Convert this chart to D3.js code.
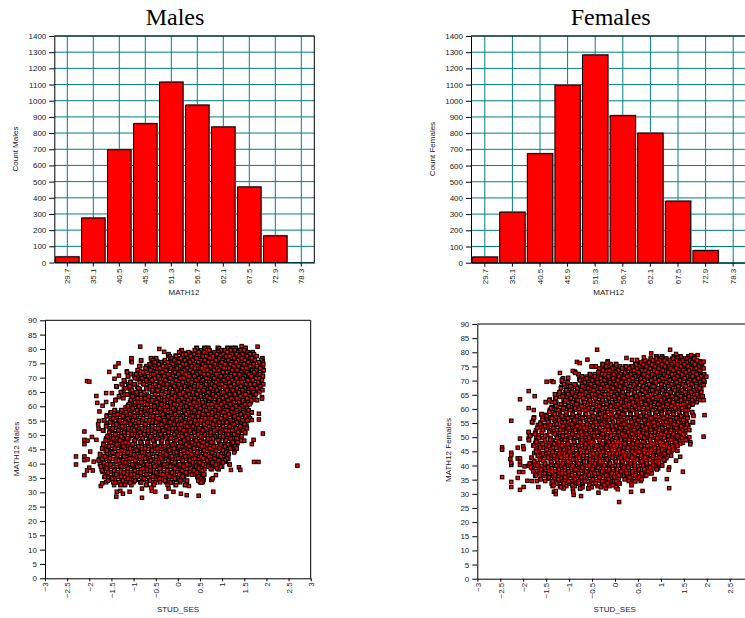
<!DOCTYPE html>
<html>
<head>
<meta charset="utf-8">
<script src="https://d3js.org/d3.v7.min.js"></script>
<style>
body { margin: 0; background: #fff; overflow: hidden; }
text { font-family: "Liberation Sans", Arial, sans-serif; font-size: 8px; fill: #222; }
.title { font-family: "Liberation Serif", "Times New Roman", serif; font-size: 24px; fill: #000; }
</style>
</head>
<body>
<script>
let binLabels = ["29.7", "35.1", "40.5", "45.9", "51.3", "56.7", "62.1", "67.5", "72.9", "78.3"];
let malesCount = [35, 275, 697, 858, 1115, 973, 838, 467, 165, 0];
let femalesCount = [35, 312, 673, 1097, 1283, 908, 800, 380, 75, 0];
let countTicks = d3.range(0, 1401, 100);
let mathTicks = d3.range(0, 91, 5);
let sesTicks = [-3, -2.5, -2, -1.5, -1, -0.5, 0, 0.5, 1, 1.5, 2, 2.5, 3];
let sesTicksFemales = [-3, -2.5, -2, -1.5, -1, -0.5, 0, 0.5, 1, 1.5, 2, 2.5];

// Streupunkte: von Hand aus dem Bild geschaetzt, [MATH12, [STUD_SES, ...]].
// Die Wolke ist zu dicht zum Ablesen, also nur eine Auswahl der Originalpunkte.
let malesRowsA = [
[80.4,[.42,.6,.68,.9,1.12,1.22,1.3,1.45,1.52]],
[79.5,[.08,.4,.5,.63,.72,.92,1.08,1.18,1.28,1.38,1.5]],
[78.6,[.05,.17,.27,.44,.57,.66,.78,.88,1,1.12,1.24,1.33,1.43,1.55,1.68]],
[77.7,[-.22,-.05,.1,.19,.35,.47,.6,.74,.86,.95,1.06,1.2,1.31,1.47,1.6,1.72]],
[76.7,[-1.05,-.6,-.5,-.17,0,.12,.24,.38,.5,.66,.77,.9,1.04,1.15,1.27,1.4,1.53,1.64,1.9]],
[75.8,[-1.05,-.83,-.58,-.47,-.3,-.12,.03,.16,.29,.45,.58,.7,.84,.97,1.1,1.22,1.36,1.5,1.6,1.72,1.92]],
[74.9,[-.6,-.45,-.36,-.22,-.08,.08,.21,.34,.5,.63,.75,.88,1.02,1.16,1.28,1.42,1.56,1.7,1.85]],
[74,[-.85,-.7,-.52,-.4,-.28,-.12,0,.14,.27,.4,.55,.68,.82,.94,1.08,1.22,1.35,1.48,1.62,1.76,1.92]],
[73.1,[-.72,-.6,-.46,-.32,-.18,-.04,.1,.24,.36,.5,.62,.76,.9,1.03,1.17,1.3,1.44,1.58,1.7,1.84]],
[72.2,[-1.15,-.85,-.66,-.54,-.4,-.25,-.1,.04,.17,.31,.45,.58,.72,.85,.98,1.12,1.26,1.38,1.52,1.66,1.78,1.92]],
[71.3,[-1.05,-.92,-.76,-.6,-.47,-.33,-.18,-.03,.11,.25,.38,.52,.66,.8,.93,1.07,1.2,1.34,1.47,1.6,1.74,1.86]],
[70.4,[-1.12,-.98,-.84,-.7,-.55,-.4,-.26,-.11,.04,.18,.32,.46,.6,.73,.87,1,1.14,1.28,1.42,1.55,1.68,1.8,1.92]],
[69.5,[-.92,-.77,-.62,-.48,-.33,-.18,-.04,.11,.25,.39,.53,.67,.8,.94,1.08,1.21,1.35,1.49,1.62,1.75,1.88]],
[68.6,[-1.2,-1.06,-.84,-.7,-.56,-.41,-.26,-.12,.03,.17,.31,.45,.59,.74,.87,1.01,1.15,1.28,1.42,1.56,1.69,1.82]],
[67.7,[-1.25,-1.12,-.98,-.78,-.63,-.49,-.34,-.19,-.05,.1,.24,.38,.52,.66,.8,.94,1.08,1.22,1.35,1.49,1.63,1.76,1.9]],
[66.8,[-1.38,-1.05,-.92,-.71,-.56,-.42,-.27,-.13,.02,.16,.3,.45,.59,.72,.86,1,1.14,1.28,1.42,1.55,1.68,1.8]],
[65.9,[-1.22,-1.08,-.86,-.64,-.5,-.35,-.2,-.06,.09,.23,.37,.51,.65,.79,.93,1.07,1.2,1.34,1.48,1.62,1.75,1.88]],
[65,[-1.26,-1.02,-.92,-.78,-.58,-.43,-.28,-.14,.01,.15,.29,.44,.58,.72,.86,1,1.14,1.27,1.41,1.55,1.68,1.82]],
[64.1,[-1.2,-1.1,-.96,-.84,-.7,-.52,-.37,-.22,-.07,.08,.22,.36,.5,.64,.78,.92,1.06,1.2,1.34,1.48,1.61,1.74]],
[63.2,[-1.32,-1.04,-.9,-.76,-.62,-.46,-.31,-.16,-.02,.13,.27,.41,.55,.69,.83,.97,1.11,1.25,1.39,1.53,1.66,1.9]],
[62.3,[-1.4,-1.06,-.95,-.82,-.68,-.53,-.38,-.24,-.09,.06,.2,.34,.48,.62,.76,.9,1.04,1.18,1.32,1.46,1.6,1.76]],
[61.4,[-1.08,-.9,-.76,-.6,-.45,-.3,-.15,0,.14,.28,.42,.56,.7,.84,.98,1.12,1.26,1.4,1.52,1.65]],
[60.5,[-1.12,-.98,-.83,-.68,-.53,-.38,-.23,-.08,.07,.21,.35,.49,.63,.77,.91,1.05,1.19,1.33,1.47,1.58]],
[59.6,[-1.18,-1.03,-.9,-.75,-.6,-.45,-.3,-.16,-.01,.14,.28,.42,.56,.7,.84,.98,1.12,1.26,1.4,1.52]],
[58.7,[-1.42,-1.28,-1.1,-.97,-.82,-.67,-.52,-.37,-.22,-.07,.08,.22,.36,.5,.64,.78,.92,1.06,1.2,1.34,1.48,1.58]],
[57.8,[-1.52,-1.36,-1.22,-1.05,-.9,-.75,-.6,-.45,-.3,-.15,0,.15,.29,.43,.57,.71,.85,.99,1.13,1.27,1.41,1.55,1.67]],
[56.9,[-1.6,-1.45,-1.3,-1.15,-1,-.84,-.69,-.54,-.39,-.24,-.09,.06,.21,.36,.5,.64,.78,.92,1.06,1.2,1.34,1.48,1.6]],
[56,[-1.52,-1.38,-1.22,-1.08,-.93,-.78,-.63,-.48,-.33,-.18,-.03,.12,.27,.41,.55,.69,.83,.97,1.11,1.25,1.39,1.53]],
[55.1,[-1.66,-1.5,-1.34,-1.18,-1.03,-.88,-.72,-.57,-.42,-.27,-.12,.03,.18,.33,.47,.61,.75,.89,1.03,1.17,1.31,1.45,1.58]],
[54.2,[-1.58,-1.42,-1.27,-1.12,-.96,-.81,-.66,-.51,-.36,-.21,-.06,.09,.24,.38,.52,.66,.8,.94,1.08,1.22,1.36,1.5]],
[53.3,[-1.62,-1.46,-1.35,-1.2,-1.05,-.9,-.75,-.6,-.44,-.29,-.14,.01,.16,.31,.45,.59,.73,.87,1.01,1.15,1.29,1.43,1.55]],
[52.4,[-1.54,-1.4,-1.26,-1.11,-.96,-.81,-.66,-.51,-.36,-.21,-.06,.09,.24,.38,.52,.66,.8,.94,1.08,1.22,1.36,1.48]],
[51.5,[-1.68,-1.5,-1.33,-1.19,-1.04,-.89,-.74,-.58,-.43,-.28,-.13,.02,.17,.32,.46,.6,.74,.88,1.02,1.16,1.3,1.44]],
[50.6,[-1.55,-1.41,-1.27,-1.12,-.97,-.82,-.66,-.51,-.36,-.21,-.06,.09,.24,.39,.53,.67,.81,.95,1.09,1.23,1.37,1.52]],
[49.7,[-1.58,-1.46,-1.34,-1.2,-1.05,-.9,-.74,-.59,-.44,-.29,-.14,.01,.16,.31,.46,.6,.74,.88,1.02,1.16,1.3,1.42]],
[48.8,[-1.62,-1.5,-1.37,-1.24,-1.1,-.95,-.8,-.65,-.5,-.35,-.2,-.05,.1,.25,.4,.54,.68,.82,.96,1.1,1.24,1.38]],
[47.9,[-1.55,-1.42,-1.28,-1.14,-.99,-.84,-.68,-.53,-.38,-.23,-.08,.07,.22,.37,.51,.65,.79,.93,1.07,1.21,1.33,1.45]],
[47,[-1.68,-1.54,-1.4,-1.26,-1.12,-.97,-.82,-.67,-.52,-.37,-.22,-.07,.08,.23,.38,.52,.66,.8,.94,1.08,1.22,1.34]],
[46.1,[-1.62,-1.48,-1.34,-1.19,-1.04,-.89,-.74,-.59,-.44,-.29,-.14,.01,.16,.31,.45,.59,.73,.87,1.01,1.15,1.28]],
[45.2,[-1.7,-1.56,-1.42,-1.27,-1.12,-.97,-.82,-.67,-.52,-.37,-.22,-.07,.08,.23,.37,.51,.65,.79,.93,1.07,1.2,1.32]],
[44.3,[-1.63,-1.5,-1.35,-1.2,-1.05,-.9,-.75,-.6,-.45,-.3,-.15,0,.15,.3,.44,.58,.72,.86,1,1.12,1.28]],
[43.4,[-1.75,-1.6,-1.44,-1.29,-1.14,-.99,-.84,-.69,-.54,-.39,-.24,-.09,.06,.21,.35,.49,.63,.77,.91,1.05,1.15]],
[42.5,[-1.68,-1.53,-1.38,-1.23,-1.08,-.93,-.78,-.63,-.48,-.33,-.18,-.03,.12,.27,.41,.55,.69,.83,.97,1.1]],
[41.6,[-1.78,-1.62,-1.46,-1.31,-1.16,-1.01,-.86,-.71,-.56,-.41,-.26,-.11,.04,.19,.33,.47,.61,.75,.88,1.02,1.14]],
[40.7,[-1.7,-1.55,-1.4,-1.25,-1.1,-.95,-.8,-.65,-.5,-.35,-.2,-.05,.1,.25,.39,.53,.67,.82,.94,1.08]],
[39.8,[-1.76,-1.6,-1.46,-1.31,-1.16,-1.01,-.86,-.71,-.56,-.41,-.26,-.11,.04,.19,.33,.47,.62,.76,.9,1.16]],
[38.9,[-1.68,-1.53,-1.38,-1.23,-1.08,-.93,-.78,-.63,-.48,-.33,-.18,-.03,.12,.26,.4,.55,.72,.85,1]],
[38,[-1.72,-1.58,-1.43,-1.28,-1.14,-.99,-.84,-.69,-.54,-.39,-.24,-.09,.06,.2,.33,.47,.6,.76,.92]],
[37.1,[-1.7,-1.52,-1.36,-1.21,-1.06,-.91,-.76,-.61,-.46,-.31,-.16,-.01,.13,.27,.42,.55]],
[36.2,[-1.6,-1.44,-1.29,-1.14,-.99,-.84,-.69,-.54,-.39,-.24,-.09,.05,.2,.35,.48,.6]],
[35.3,[-1.66,-1.5,-1.36,-1.2,-1.05,-.9,-.75,-.6,-.45,-.3,-.15,0,.14,.44,.56]],
[34.4,[-1.55,-1.42,-1.27,-1.08,-.95,-.8,-.65,-.5,-.35,-.2,-.05,.1,.47,.58,.76]],
[33.5,[-1.62,-1.46,-1.32,-1.18,-1,-.85,-.7,-.56,-.4,-.27,-.12,.05,.2,.5,.56]],
[32.5,[-1.44,-1.3,-1.2,-1.05,-.7,-.55,-.22,-.05,.16]]
];
let malesRowsB = [
[80.3,[.43,.61,.69,.93,1.13,1.24,1.31,1.47,1.53]],
[79.6,[.09,.38,.52,.66,.71,.97,1.06,1.19,1.29,1.41,1.5]],
[78.9,[.03,.24,.47,.59,.83,.91,1.12,1.36,1.58,1.69]],
[78.2,[-.21,.12,.18,.36,.74,.88,1.03,1.22,1.33,1.46,1.62,1.72]],
[77.5,[-.18,-.04,.29,.56,.64,.79,1.09,1.17,1.39,1.56,1.78]],
[76.8,[-1.05,-.61,-.49,-.14,.07,.21,.42,.72,.94,1.27,1.44,1.67,1.91]],
[76.1,[-.83,-.56,-.29,-.08,.16,.33,.51,.61,.86,1.01,1.14,1.36,1.52,1.74,1.88]],
[75.4,[-1.04,-.52,-.38,-.23,.02,.27,.46,.69,.77,.99,1.21,1.31,1.59,1.83]],
[74.7,[-.64,-.43,-.12,.11,.19,.37,.57,.84,1.07,1.18,1.41,1.49,1.71,1.93]],
[74,[-.87,-.71,-.33,-.19,.05,.31,.44,.62,.73,.96,1.26,1.37,1.63,1.79]],
[73.3,[-.73,-.58,-.41,-.16,-.02,.22,.39,.54,.89,1.04,1.16,1.46,1.55,1.86]],
[72.6,[-.91,-.62,-.27,-.09,.14,.28,.67,.81,.93,1.23,1.34,1.68,1.77,1.94]],
[71.9,[-1.15,-.78,-.48,-.36,-.06,.09,.34,.49,.74,1.02,1.11,1.43,1.57,1.72]],
[71.2,[-1.06,-.94,-.55,-.22,.01,.18,.43,.59,.68,.87,1.28,1.39,1.61,1.85]],
[70.5,[-1.13,-.67,-.44,-.31,-.11,.26,.37,.78,.97,1.08,1.19,1.51,1.66,1.92]],
[69.8,[-.96,-.81,-.52,-.17,.06,.13,.48,.63,.82,1.13,1.32,1.47,1.76,1.84]],
[69.1,[-1.22,-.72,-.59,-.28,-.04,.24,.41,.56,.91,1.04,1.22,1.58,1.69,1.9]],
[68.4,[-1.08,-.86,-.39,-.13,.11,.31,.71,.86,1.16,1.36,1.44,1.81]],
[67.7,[-1.27,-.98,-.77,-.51,-.24,.02,.19,.46,.64,.77,.99,1.27,1.54,1.63,1.73,1.93]],
[67,[-1.39,-1.09,-.63,-.42,-.08,.16,.37,.53,.83,1.07,1.19,1.42,1.86]],
[66.3,[-1.18,-.89,-.71,-.33,-.18,.07,.28,.61,.74,.94,1.33,1.51,1.67,1.79]],
[65.6,[-1.04,-.57,-.46,-.02,.22,.47,.58,.88,1.11,1.24,1.46,1.91]],
[64.9,[-1.29,-.93,-.76,-.27,-.12,.12,.34,.69,.98,1.03,1.38,1.59,1.71,1.84]],
[64.2,[-1.14,-.83,-.51,-.37,.04,.25,.43,.79,.91,1.17,1.29,1.53,1.76]],
[63.5,[-1.33,-1.02,-.66,-.21,-.06,.18,.52,.66,.86,1.09,1.41,1.63]],
[62.8,[-1.23,-.91,-.74,-.43,-.14,.09,.29,.38,.72,1.01,1.21,1.34,1.57,1.72]],
[62.1,[-1.41,-1.06,-.58,-.31,.01,.23,.47,.61,.93,1.13,1.47,1.66,1.79]],
[61.4,[-.96,-.82,-.48,-.17,.13,.36,.56,.81,1.04,1.26,1.38,1.58]],
[60.7,[-1.09,-.69,-.37,-.08,.07,.27,.68,.76,.98,1.18,1.52,1.62]],
[60,[-1.13,-.88,-.53,-.24,.19,.42,.59,.87,1.09,1.31,1.44]],
[59.3,[-1.02,-.73,-.41,-.11,.03,.31,.51,.71,.94,1.23,1.39,1.56]],
[58.6,[-1.43,-1.27,-.92,-.61,-.28,.14,.38,.64,.83,1.12,1.33,1.6]],
[57.9,[-1.51,-1.17,-.83,-.47,-.16,.02,.24,.48,.77,1.03,1.21,1.48,1.67]],
[57.2,[-1.36,-1.08,-.71,-.34,-.06,.18,.57,.69,.91,1.16,1.42,1.58]],
[56.5,[-1.61,-1.24,-.97,-.56,-.22,.11,.33,.46,.86,1.07,1.28,1.53]],
[55.8,[-1.46,-1.13,-.79,-.42,-.13,.06,.26,.62,.76,.98,1.37,1.63]],
[55.1,[-1.67,-1.31,-1.01,-.64,-.31,-.02,.39,.53,.84,1.19,1.46,1.57]],
[54.4,[-1.53,-1.19,-.88,-.49,-.18,.16,.29,.67,.93,1.11,1.33]],
[53.7,[-1.39,-1.07,-.73,-.37,-.09,.08,.44,.59,.79,1.26,1.51]],
[53,[-1.62,-1.26,-.94,-.58,-.26,.21,.34,.71,1.02,1.17,1.41]],
[52.3,[-1.47,-1.12,-.81,-.44,-.12,.04,.49,.63,.89,1.31,1.56]],
[51.6,[-1.69,-1.34,-.99,-.67,-.33,.13,.27,.56,.82,1.08,1.23,1.47]],
[50.9,[-1.55,-1.21,-.86,-.52,-.21,-.03,.37,.74,.96,1.36,1.52]],
[50.2,[-1.41,-1.04,-.76,-.39,-.08,.19,.46,.61,1.13,1.27]],
[49.5,[-1.59,-1.28,-.92,-.62,-.27,.09,.31,.53,.84,1.02,1.44]],
[48.8,[-1.46,-1.14,-.79,-.47,-.16,.23,.68,.79,1.19,1.33]],
[48.1,[-1.63,-1.31,-.97,-.56,-.36,-.02,.14,.41,.92,1.08,1.42]],
[47.4,[-1.51,-1.18,-.84,-.69,-.24,.06,.32,.58,.76,1.24,1.35]],
[46.7,[-1.68,-1.37,-1.02,-.53,-.12,.19,.47,.66,.97,1.13]],
[46,[-1.56,-1.23,-.89,-.41,-.29,.03,.26,.54,.81,1.06,1.29]],
[45.3,[-1.71,-1.42,-1.08,-.74,-.46,-.09,.36,.72,.94,1.18,1.33]],
[44.6,[-1.6,-1.27,-.93,-.58,-.19,.13,.28,.59,.86,1.02]],
[43.9,[-1.48,-1.13,-.81,-.33,-.03,.22,.44,.77,1.09,1.27]],
[43.2,[-1.76,-1.36,-.99,-.66,-.26,.07,.31,.63,.91,1.14]],
[42.5,[-1.64,-1.21,-.86,-.49,-.14,.17,.52,.71,.98]],
[41.8,[-1.54,-1.09,-.74,-.37,.01,.39,.58,.83,1.11]],
[41.1,[-1.79,-1.33,-.96,-.61,-.22,.11,.27,.66,.92,1.06]],
[40.4,[-1.67,-1.18,-.83,-.43,-.07,.34,.49,.78,1.02]],
[39.7,[-1.52,-1.03,-.69,-.31,.04,.21,.57,.86,1.17]],
[39,[-1.74,-1.27,-.92,-.53,-.17,.13,.41,.69,.97]],
[38.3,[-1.61,-1.13,-.78,-.41,-.06,.29,.47,.74,.88]],
[37.6,[-1.71,-1.44,-.97,-.62,-.24,.09,.36,.54]],
[36.9,[-1.58,-1.22,-.84,-.49,-.13,.18,.43]],
[36.2,[-1.39,-1.06,-.71,-.33,.03,.31,.58]],
[35.5,[-1.64,-1.28,-.91,-.56,-.19,.11,.47]],
[34.8,[-1.48,-1.13,-.77,-.41,-.07,.52]],
[34.1,[-1.58,-1.24,-.97,-.63,-.29,.06,.21,.46,.57]],
[33.4,[-1.41,-1.08,-.83,-.51,-.16,.53]],
[32.6,[-1.29,-1.19,-.72,-.54,-.23,-.04,.17]]
];
let malesOutliers = [[-.85,80.8],[-.42,80],[-.31,79],[-1.34,75],[-1.41,73.8],[-1.33,70.7],[-1.55,72],[-1.43,69.6],[-2.05,68.8],[-2,68.6],[-1.84,63.6],[-1.82,61.2],[-1.62,64.6],[-1.49,64.6],[-1.62,61.5],[-1.47,60.7],[-1.7,60.2],[-1.77,58.2],[-1.78,54.9],[-1.8,53.7],[-1.79,52.2],[-2.11,51.2],[-2.11,48.3],[-2.11,46.8],[-1.94,49.3],[-2.04,48],[-1.84,48.3],[-2.3,42.5],[-2.3,39.7],[-2.11,42.5],[-2.11,41.2],[-2.04,41.5],[-1.98,44.2],[-2,38.6],[-2.05,37.6],[-2.11,36],[-1.92,37.6],[-1.9,40.7],[-1.74,32.2],[-1.71,33.1],[-1.39,28.5],[-1.38,30.2],[-1.3,30.5],[-1.24,29.5],[-1.09,30.2],[-.81,28.1],[-.81,31.3],[-.59,30.5],[-.51,30.2],[-.6,31.6],[-.21,31.3],[-.26,28.5],[-.1,30.2],[.07,29.5],[.2,29],[.47,28.8],[.8,30.2],[.25,32.2],[2.7,39.3],[1.82,40.6],[1.72,40.6],[1.92,50.5],[1.67,46.8],[1.71,48.3],[1.5,48],[1.9,62.7],[1.83,57.4],[1.83,55.4],[1.67,55.2],[1.8,80.8],[1.44,81],[1.38,38.7],[1.41,37.8],[1.2,37.8],[.86,36],[.76,34.3],[.79,34.9]];

let femalesRowsA = [
[78.6,[.9,1.02,1.28,1.42,1.6,1.7]],
[77.7,[.78,.9,1,1.1,1.24,1.36,1.5,1.58,1.72]],
[76.8,[-.16,.62,.76,.88,.98,1.1,1.22,1.34,1.46,1.58,1.7,1.86]],
[75.9,[-.27,-.12,.02,.44,.55,.68,.8,.92,1.04,1.16,1.28,1.4,1.52,1.64,1.76,1.9]],
[75,[-.5,-.42,-.2,-.06,.1,.22,.34,.47,.58,.7,.82,.95,1.08,1.2,1.32,1.45,1.58,1.7,1.84]],
[74.1,[-.35,-.24,-.1,.04,.16,.28,.41,.54,.66,.78,.9,1.03,1.15,1.28,1.4,1.52,1.65,1.78]],
[73.2,[-.88,-.3,-.18,-.04,.09,.22,.35,.48,.6,.72,.85,.98,1.1,1.23,1.35,1.48,1.6,1.73,1.86]],
[72.3,[-.8,-.55,-.44,-.28,-.14,0,.14,.27,.4,.53,.66,.79,.92,1.05,1.18,1.31,1.44,1.57,1.7,1.82,1.94]],
[71.4,[-.73,-.62,-.5,-.37,-.22,-.08,.06,.2,.33,.46,.6,.73,.86,.99,1.12,1.25,1.38,1.51,1.64,1.77,1.9]],
[70.5,[-1.14,-.78,-.66,-.53,-.4,-.27,-.13,.01,.15,.28,.42,.55,.69,.82,.95,1.08,1.21,1.34,1.47,1.6,1.73,1.86]],
[69.6,[-1.15,-1.03,-.72,-.58,-.45,-.31,-.17,-.03,.11,.24,.38,.51,.65,.78,.91,1.05,1.18,1.31,1.44,1.57,1.7,1.83,1.95]],
[68.7,[-1.1,-.98,-.86,-.72,-.6,-.47,-.34,-.2,-.06,.07,.21,.35,.48,.62,.75,.88,1.02,1.15,1.28,1.41,1.54,1.67,1.8,1.92]],
[67.8,[-1.17,-1.02,-.88,-.76,-.63,-.5,-.36,-.22,-.08,.05,.19,.33,.46,.6,.73,.87,1,1.13,1.26,1.39,1.52,1.65,1.78]],
[66.9,[-1.06,-.94,-.8,-.67,-.53,-.39,-.25,-.11,.03,.16,.3,.44,.57,.71,.84,.97,1.1,1.24,1.37,1.5,1.63,1.76,1.88]],
[66,[-1.2,-1.08,-.96,-.83,-.69,-.55,-.41,-.27,-.13,.01,.15,.29,.42,.56,.69,.83,.96,1.09,1.22,1.35,1.48,1.61,1.74,1.86]],
[65.1,[-1.3,-1.12,-.98,-.85,-.71,-.57,-.43,-.29,-.15,-.01,.13,.27,.41,.54,.68,.81,.95,1.08,1.21,1.34,1.47,1.6,1.73,1.84]],
[64.2,[-1.3,-1.2,-1.04,-.9,-.76,-.62,-.48,-.34,-.2,-.06,.08,.22,.36,.49,.63,.76,.9,1.03,1.16,1.29,1.42,1.55,1.68,1.82,1.9]],
[63.3,[-1.42,-1.3,-1.12,-.98,-.84,-.7,-.56,-.42,-.28,-.14,0,.14,.28,.41,.55,.68,.82,.95,1.08,1.21,1.34,1.47,1.6,1.73,1.86]],
[62.4,[-1.5,-1.38,-1.28,-1.1,-.95,-.81,-.67,-.53,-.39,-.25,-.11,.03,.17,.31,.44,.58,.71,.85,.98,1.11,1.24,1.37,1.5,1.63,1.76]],
[61.5,[-1.3,-1.16,-1.02,-.88,-.74,-.6,-.46,-.32,-.18,-.04,.1,.24,.38,.51,.65,.78,.92,1.05,1.18,1.31,1.44,1.57,1.68]],
[60.6,[-1.38,-1.26,-1.1,-.96,-.82,-.68,-.54,-.4,-.26,-.12,.02,.16,.3,.44,.57,.71,.84,.98,1.11,1.24,1.37,1.5,1.6]],
[59.7,[-1.42,-1.28,-1.14,-1,-.86,-.72,-.58,-.44,-.3,-.16,-.02,.12,.26,.4,.53,.67,.8,.94,1.07,1.2,1.33,1.46,1.58]],
[58.8,[-1.36,-1.2,-1.06,-.92,-.78,-.64,-.5,-.36,-.22,-.08,.06,.2,.34,.47,.61,.74,.88,1.01,1.14,1.27,1.4,1.53,1.68]],
[57.9,[-1.6,-1.5,-1.34,-1.2,-1.06,-.92,-.78,-.64,-.5,-.36,-.22,-.08,.06,.2,.34,.48,.61,.75,.88,1.02,1.15,1.28,1.41,1.54,1.7]],
[57,[-1.76,-1.58,-1.42,-1.28,-1.14,-1,-.86,-.72,-.58,-.44,-.3,-.16,-.02,.12,.26,.4,.53,.67,.8,.94,1.07,1.2,1.33,1.46,1.58]],
[56.1,[-1.78,-1.48,-1.33,-1.19,-1.05,-.91,-.77,-.63,-.49,-.35,-.21,-.07,.07,.21,.35,.48,.62,.75,.89,1.02,1.15,1.28,1.41,1.54]],
[55.2,[-1.8,-1.62,-1.44,-1.3,-1.16,-1.02,-.88,-.74,-.6,-.46,-.32,-.18,-.04,.1,.24,.38,.51,.65,.78,.92,1.05,1.18,1.31,1.44,1.56,1.7]],
[54.3,[-1.68,-1.54,-1.4,-1.26,-1.12,-.98,-.84,-.7,-.56,-.42,-.28,-.14,0,.14,.28,.41,.55,.68,.82,.95,1.08,1.21,1.34,1.47,1.6]],
[53.4,[-1.6,-1.46,-1.32,-1.18,-1.04,-.9,-.76,-.62,-.48,-.34,-.2,-.06,.08,.22,.36,.49,.63,.76,.9,1.03,1.16,1.29,1.42,1.55]],
[52.5,[-1.72,-1.56,-1.4,-1.26,-1.12,-.98,-.84,-.7,-.56,-.42,-.28,-.14,0,.14,.28,.42,.55,.69,.82,.96,1.09,1.22,1.35,1.48,1.62]],
[51.6,[-1.88,-1.74,-1.6,-1.34,-1.2,-1.06,-.92,-.78,-.64,-.5,-.36,-.22,-.08,.06,.2,.34,.47,.61,.74,.88,1.01,1.14,1.27,1.4,1.53]],
[50.7,[-1.84,-1.66,-1.48,-1.28,-1.14,-1,-.86,-.72,-.58,-.44,-.3,-.16,-.02,.12,.26,.4,.53,.67,.8,.94,1.07,1.2,1.33,1.46]],
[49.8,[-1.88,-1.72,-1.56,-1.4,-1.22,-1.08,-.94,-.8,-.66,-.52,-.38,-.24,-.1,.04,.18,.32,.45,.59,.72,.86,.99,1.12,1.25,1.38,1.52]],
[48.9,[-1.87,-1.7,-1.52,-1.36,-1.18,-1.04,-.9,-.76,-.62,-.48,-.34,-.2,-.06,.08,.22,.36,.49,.63,.76,.9,1.03,1.16,1.29,1.42,1.58]],
[48,[-1.74,-1.62,-1.44,-1.3,-1.16,-1.02,-.88,-.74,-.6,-.46,-.32,-.18,-.04,.1,.24,.38,.51,.65,.78,.92,1.05,1.18,1.31,1.48]],
[47.1,[-1.78,-1.66,-1.5,-1.36,-1.22,-1.08,-.94,-.8,-.66,-.52,-.38,-.24,-.1,.04,.18,.32,.45,.59,.72,.86,.99,1.12,1.25,1.36]],
[46.2,[-1.72,-1.56,-1.42,-1.28,-1.14,-1,-.86,-.72,-.58,-.44,-.3,-.16,-.02,.12,.26,.39,.53,.66,.8,.93,1.06,1.19,1.3]],
[45.3,[-1.66,-1.48,-1.34,-1.2,-1.06,-.92,-.78,-.64,-.5,-.36,-.22,-.08,.06,.2,.34,.47,.61,.74,.88,1.01,1.14,1.24]],
[44.4,[-1.76,-1.6,-1.44,-1.3,-1.16,-1.02,-.88,-.74,-.6,-.46,-.32,-.18,-.04,.1,.24,.37,.51,.64,.78,.91,1.04,1.18]],
[43.5,[-1.68,-1.52,-1.38,-1.24,-1.1,-.96,-.82,-.68,-.54,-.4,-.26,-.12,.02,.16,.3,.43,.57,.7,.84,.97,1.1,1.22]],
[42.6,[-1.82,-1.62,-1.46,-1.32,-1.18,-1.04,-.9,-.76,-.62,-.48,-.34,-.2,-.06,.08,.22,.35,.49,.62,.76,.89,1.02,1.12]],
[41.7,[-1.76,-1.56,-1.4,-1.26,-1.12,-.98,-.84,-.7,-.56,-.42,-.28,-.14,0,.14,.28,.41,.55,.68,.82,.95,1.08]],
[40.8,[-1.84,-1.68,-1.52,-1.38,-1.24,-1.1,-.96,-.82,-.68,-.54,-.4,-.26,-.12,.02,.16,.3,.43,.57,.7,.84,.96]],
[39.9,[-1.88,-1.74,-1.6,-1.46,-1.32,-1.18,-1.04,-.9,-.76,-.62,-.48,-.34,-.2,-.06,.08,.22,.35,.49,.62,.76,.88,1.02]],
[39,[-1.8,-1.66,-1.52,-1.38,-1.24,-1.1,-.96,-.82,-.68,-.54,-.4,-.26,-.12,.02,.16,.3,.43,.57,.7,.82,.94]],
[38.1,[-1.72,-1.58,-1.44,-1.3,-1.16,-1.02,-.88,-.74,-.6,-.46,-.32,-.18,-.04,.1,.24,.37,.5,.64,.78]],
[37.2,[-1.64,-1.5,-1.36,-1.22,-1.08,-.94,-.8,-.66,-.52,-.38,-.24,-.1,.04,.18,.31,.45,.58,.72]],
[36.3,[-1.74,-1.56,-1.42,-1.28,-1.14,-1,-.86,-.72,-.58,-.44,-.3,-.16,-.02,.12,.26,.39,.52,.66]],
[35.4,[-1.62,-1.46,-1.32,-1.18,-1.04,-.9,-.76,-.62,-.48,-.34,-.2,-.06,.08,.22,.35,.48,.58]],
[34.5,[-1.7,-1.52,-1.36,-1.22,-1.08,-.94,-.8,-.66,-.52,-.38,-.24,-.1,.04,.3,.44,.56]],
[33.6,[-1.38,-1.26,-1.12,-.98,-.84,-.7,-.56,-.42,-.28,-.14,-.02,.1]],
[32.7,[-1.36,-1.2,-1.06,-.88,-.72,-.52,-.38,-.24,-.12,.04]],
[31.9,[-1.12,-.76,-.58,-.2]]
];
let femalesRowsB = [
[78.5,[.91,1.03,1.29,1.43,1.61,1.71]],
[77.8,[.78,.89,1.01,1.12,1.26,1.37,1.52,1.58,1.73]],
[77.1,[.66,.83,.97,1.08,1.19,1.34,1.47,1.63,1.79]],
[76.4,[-.16,.57,.74,.93,1.14,1.28,1.41,1.56,1.68,1.87]],
[75.7,[-.27,-.09,.03,.46,.62,.81,1.02,1.23,1.36,1.51,1.74]],
[75,[-.51,-.42,-.19,.11,.24,.37,.53,.69,.88,1.09,1.18,1.44,1.59,1.82]],
[74.3,[-.34,-.06,.16,.31,.48,.76,.95,1.21,1.33,1.66,1.77,1.93]],
[73.6,[-.26,-.12,.07,.41,.58,.67,.86,1.04,1.27,1.49,1.61,1.84]],
[72.9,[-.87,-.36,.01,.22,.52,.73,.92,1.16,1.39,1.54,1.71]],
[72.2,[-.79,-.54,-.21,-.03,.13,.34,.63,.81,1.07,1.24,1.46,1.78,1.94]],
[71.5,[-.72,-.44,-.14,.09,.27,.44,.71,.98,1.13,1.36,1.57,1.69,1.88]],
[70.8,[-1.13,-.61,-.31,-.04,.19,.38,.56,.87,1.02,1.29,1.52,1.81]],
[70.1,[-1.16,-.76,-.49,-.23,.06,.31,.64,.79,.96,1.19,1.41,1.63,1.73,1.93]],
[69.4,[-1.03,-.66,-.38,-.11,.14,.47,.58,.89,1.11,1.34,1.59,1.86]],
[68.7,[-1.11,-.88,-.53,-.27,.02,.24,.41,.74,1.01,1.23,1.48,1.67,1.91]],
[68,[-.97,-.71,-.44,-.17,.11,.33,.62,.84,1.16,1.38,1.54,1.77]],
[67.3,[-1.18,-.82,-.59,-.31,-.04,.21,.51,.69,.94,1.09,1.27,1.62,1.84]],
[66.6,[-1.06,-.73,-.47,-.14,.08,.37,.59,.81,1.04,1.31,1.46,1.71]],
[65.9,[-1.21,-.93,-.63,-.36,-.08,.17,.43,.66,.91,1.21,1.53,1.66,1.88]],
[65.2,[-1.31,-1.02,-.77,-.5,-.22,.04,.28,.54,.76,1.13,1.37,1.79]],
[64.5,[-1.14,-.86,-.58,-.33,-.02,.16,.46,.71,.97,1.24,1.43,1.61,1.91]],
[63.8,[-1.29,-.96,-.69,-.43,-.13,.09,.36,.62,.83,1.07,1.33,1.52,1.74]],
[63.1,[-1.43,-1.08,-.81,-.55,-.27,.24,.49,.73,1.01,1.18,1.44,1.68,1.86]],
[62.4,[-1.51,-1.31,-.92,-.66,-.38,-.06,.13,.39,.57,.88,1.27,1.57,1.78]],
[61.7,[-1.18,-.84,-.47,-.18,.06,.31,.67,.94,1.14,1.36,1.49,1.69]],
[61,[-1.28,-1.01,-.73,-.34,-.09,.19,.44,.78,1.04,1.23,1.61]],
[60.3,[-1.39,-1.12,-.87,-.58,-.26,.12,.53,.71,.97,1.31,1.46]],
[59.6,[-1.23,-.97,-.64,-.41,-.03,.23,.37,.82,1.09,1.54]],
[58.9,[-1.43,-1.07,-.77,-.51,-.16,.08,.47,.62,.91,1.18,1.39,1.68]],
[58.2,[-1.6,-1.31,-.92,-.63,-.32,.16,.33,.74,1.02,1.27,1.56]],
[57.5,[-1.49,-1.16,-.83,-.47,-.21,.03,.56,.68,.88,1.13,1.44,1.71]],
[56.8,[-1.77,-1.38,-1.03,-.71,-.36,-.07,.27,.42,.79,1.06,1.33,1.58]],
[56.1,[-1.58,-1.22,-.89,-.57,-.13,.14,.51,.64,.97,1.21,1.49]],
[55.4,[-1.81,-1.46,-1.09,-.77,-.42,-.24,.07,.36,.84,1.11,1.38,1.69]],
[54.7,[-1.63,-1.27,-.94,-.61,-.29,.19,.46,.72,.93,1.28,1.57]],
[54,[-1.52,-1.13,-.82,-.48,-.16,.02,.31,.59,.86,1.16,1.44]],
[53.3,[-1.69,-1.34,-1.01,-.68,-.33,.11,.24,.67,1.03,1.33,1.54]],
[52.6,[-1.57,-1.19,-.87,-.53,-.21,-.04,.41,.78,.96,1.22,1.61]],
[51.9,[-1.88,-1.43,-1.07,-.74,-.39,.08,.29,.52,.87,1.12,1.41]],
[51.2,[-1.74,-1.31,-.93,-.62,-.27,.16,.37,.69,1.01,1.27,1.49]],
[50.5,[-1.85,-1.52,-1.14,-.81,-.46,-.09,.23,.57,.79,1.16,1.36]],
[49.8,[-1.66,-1.26,-.97,-.56,-.18,.03,.44,.64,.92,1.07,1.46]],
[49.1,[-1.88,-1.41,-1.09,-.72,-.34,.13,.31,.76,1.23,1.54]],
[48.4,[-1.71,-1.22,-.89,-.51,-.14,.06,.49,.62,.98,1.32]],
[47.7,[-1.58,-1.33,-1.03,-.64,-.27,.21,.39,.84,1.13,1.42]],
[47,[-1.77,-1.44,-1.16,-.79,-.41,-.03,.12,.56,.71,1.06,1.24,1.36]],
[46.3,[-1.63,-1.28,-.92,-.57,-.19,.28,.46,.87,1.18]],
[45.6,[-1.49,-1.11,-.76,-.36,-.07,.09,.63,.79,1.03,1.27]],
[44.9,[-1.72,-1.36,-.99,-.61,-.26,.18,.38,.53,.94,1.16]],
[44.2,[-1.57,-1.21,-.84,-.47,-.12,.04,.44,.71,1.08]],
[43.5,[-1.68,-1.33,-1.04,-.69,-.31,.22,.57,.83,1.22]],
[42.8,[-1.82,-1.46,-1.17,-.78,-.41,-.06,.13,.37,.66,.97]],
[42.1,[-1.64,-1.27,-.91,-.54,-.18,.27,.48,.76,1.06]],
[41.4,[-1.76,-1.39,-1.02,-.67,-.33,.02,.16,.58,.89]],
[40.7,[-1.86,-1.53,-1.14,-.79,-.44,-.11,.34,.69,.96]],
[40,[-1.69,-1.28,-.93,-.56,-.23,.07,.43,.61,.83,1.03]],
[39.3,[-1.83,-1.46,-1.09,-.71,-.37,.19,.29,.76]],
[38.6,[-1.61,-1.22,-.86,-.49,-.13,.04,.52,.64,.91]],
[37.9,[-1.78,-1.38,-1.01,-.63,-.28,.14,.38,.72]],
[37.2,[-1.53,-1.16,-.79,-.44,-.07,.26,.58,.8]],
[36.5,[-1.72,-1.31,-.94,-.57,-.19,.09,.44,.68]],
[35.8,[-1.44,-1.08,-.73,-.34,-.02,.32,.53]],
[35.1,[-1.62,-1.24,-.87,-.48,-.14,.21,.58]],
[34.4,[-1.36,-1.01,-.66,-.28,.03,.44]],
[33.7,[-1.12,-.79,-.42,-.16,.09,.36]],
[33,[-1.34,-.93,-.56,-.24,-.04]],
[32.3,[-1.18,-.71,-.51,-.31,.02]],
[31.9,[-.76,-.58]]
];
let femalesOutliers = [[-.39,80.9],[1.2,80.9],[-.6,77.4],[-.83,76.6],[-.77,76.2],[-1.88,66.3],[-1.75,64.5],[-2.07,63.4],[-1.88,60.3],[-1.77,59.6],[-2.26,55.8],[-2.07,49.5],[-2.46,46.4],[-2.46,45.6],[-2.12,46.3],[-2,46.8],[-1.99,45.8],[-2.26,44.5],[-2.26,43.7],[-2.28,42.3],[-2.26,40.2],[-2.26,40.9],[-2.12,42.5],[-2.07,42.5],[-2.07,41.3],[-2.07,40.2],[-1.97,39.7],[-2.09,37.7],[-2,37.7],[-2.46,35.9],[-2.12,35.6],[-2.26,34.2],[-2.26,32.4],[-2.07,31.4],[-1.99,32.4],[-1.67,32.4],[-1.91,34.6],[-1.81,34.5],[-1.33,30.7],[-1.29,29.9],[-1.29,31],[-.92,31.7],[-.9,29.6],[-.91,30.7],[-.74,29.2],[-.36,30.4],[.09,27.1],[.06,31.6],[.35,30.7],[.6,31],[.36,33],[1.18,32],[1.13,35.2],[.86,35.2],[1.48,37.8],[1.18,39.3],[1.17,38.5],[1.42,43.1],[1.33,41.7],[1.36,45.2],[1.93,50.2],[1.95,57.8],[1.64,48.2],[1.64,47.5],[1.62,50],[1.8,79],[1.66,79],[1.33,79.4],[.79,79.6],[.25,78],[.48,77.3],[.37,77.3],[.63,78.2],[-1.49,69.6],[-1.38,69.8],[-1.34,69.5],[-1.2,72.7],[-1.02,71],[-.92,73.4],[-.86,72.7],[1.93,76.7],[1.99,71.4],[1.93,68.4],[1.93,63.1]];

let svg = d3.select("body").append("svg").attr("width", 745).attr("height", 618);

function zuPunkten(rows, outliers) {
  let pts = [];
  rows.forEach(function(r) {
    r[1].forEach(function(x) { pts.push([x, r[0]]); });
  });
  return pts.concat(outliers);
}

function achsenStil(g) {
  g.selectAll("line").attr("stroke", "#000");
  g.select(".domain").attr("stroke", "#000");
}

function achsenTitel(cx, cy, text, gedreht) {
  svg.append("text")
    .attr("text-anchor", "middle")
    .attr("transform", "translate(" + cx + "," + cy + ")" + (gedreht ? " rotate(-90)" : ""))
    .attr("dy", "0.35em")
    .text(text);
}

function histogramm(cfg) {
  let x = d3.scaleBand().domain(binLabels).range([cfg.left, cfg.right]).paddingInner(cfg.pad).paddingOuter(cfg.pad / 2);
  let y = d3.scaleLinear().domain([0, 1400]).range([cfg.bottom, cfg.top]);

  // Gitter
  svg.append("g").selectAll("line").data(countTicks).enter().append("line")
    .attr("x1", cfg.left).attr("x2", cfg.right)
    .attr("y1", function(d) { return y(d); }).attr("y2", function(d) { return y(d); })
    .attr("stroke", "#008080");
  svg.append("g").selectAll("line").data(binLabels).enter().append("line")
    .attr("x1", function(d) { return x(d) + x.bandwidth() / 2; })
    .attr("x2", function(d) { return x(d) + x.bandwidth() / 2; })
    .attr("y1", cfg.top).attr("y2", cfg.bottom)
    .attr("stroke", "#008080");

  // Balken mit leichtem Schatten
  svg.append("g").selectAll("rect").data(cfg.values).enter().append("rect")
    .attr("x", function(d, i) { return x(binLabels[i]) + 1; })
    .attr("y", function(d) { return y(d) - 1; })
    .attr("width", x.bandwidth())
    .attr("height", function(d) { return cfg.bottom - y(d) + 1; })
    .attr("fill", "#999")
    .attr("opacity", function(d) { return d > 0 ? 1 : 0; });
  svg.append("g").selectAll("rect").data(cfg.values).enter().append("rect")
    .attr("x", function(d, i) { return x(binLabels[i]); })
    .attr("y", function(d) { return y(d); })
    .attr("width", x.bandwidth())
    .attr("height", function(d) { return cfg.bottom - y(d); })
    .attr("fill", "#f00")
    .attr("stroke", "#000");

  let ax = svg.append("g").attr("transform", "translate(0," + cfg.bottom + ")")
    .call(d3.axisBottom(x).tickSize(4).tickSizeOuter(0));
  ax.call(achsenStil);
  ax.selectAll("text").attr("transform", "rotate(-90)").attr("text-anchor", "end")
    .attr("x", -6).attr("y", 0).attr("dy", "0.35em");
  let ay = svg.append("g").attr("transform", "translate(" + cfg.left + ",0)")
    .call(d3.axisLeft(y).tickValues(countTicks).tickFormat(d3.format("d")).tickSize(5).tickSizeOuter(0));
  ay.call(achsenStil);

  svg.append("line").attr("x1", cfg.left).attr("x2", cfg.right).attr("y1", cfg.top).attr("y2", cfg.top).attr("stroke", "#000");
  svg.append("line").attr("x1", cfg.right).attr("x2", cfg.right).attr("y1", cfg.top).attr("y2", cfg.bottom).attr("stroke", "#000");

  achsenTitel(cfg.ylabelX, 149, cfg.ylabel, true);
  achsenTitel(cfg.xlabelX, 292, "MATH12", false);
  svg.append("text").attr("class", "title").attr("x", cfg.titleX).attr("y", 25)
    .attr("text-anchor", "middle").text(cfg.title);
}

function streuung(cfg) {
  let x = d3.scaleLinear().domain([-3, 3]).range([cfg.left, cfg.right]);
  let y = d3.scaleLinear().domain([0, 90]).range([cfg.bottom, cfg.top]);

  svg.append("g").selectAll("rect").data(cfg.points).enter().append("rect")
    .attr("x", function(d) { return x(d[0]) - 1.75; })
    .attr("y", function(d) { return y(d[1]) - 1.75; })
    .attr("width", 3.5).attr("height", 3.5)
    .attr("fill", "#f00").attr("stroke", "#000").attr("stroke-width", 1);

  let ax = svg.append("g").attr("transform", "translate(0," + cfg.bottom + ")")
    .call(d3.axisBottom(x).tickValues(cfg.ticks).tickFormat(d3.format("")).tickSize(3).tickSizeOuter(0));
  ax.call(achsenStil);
  ax.selectAll("text").attr("transform", "rotate(-90)").attr("text-anchor", "end")
    .attr("x", -4).attr("y", 0).attr("dy", "0.35em");
  let ay = svg.append("g").attr("transform", "translate(" + cfg.left + ",0)")
    .call(d3.axisLeft(y).tickValues(mathTicks).tickSize(5).tickSizeOuter(0));
  ay.call(achsenStil);

  svg.append("line").attr("x1", cfg.left).attr("x2", cfg.right).attr("y1", cfg.top).attr("y2", cfg.top).attr("stroke", "#000");
  svg.append("line").attr("x1", cfg.right).attr("x2", cfg.right).attr("y1", cfg.top).attr("y2", cfg.bottom).attr("stroke", "#000");

  achsenTitel(cfg.ylabelX, cfg.ylabelY, cfg.ylabel, true);
  achsenTitel(cfg.xlabelX, 609, "STUD_SES", false);
}

histogramm({ left: 54.3, right: 314.3, top: 36, bottom: 262.5, pad: 0.096, values: malesCount,
  ylabel: "Count Males", ylabelX: 15, xlabelX: 184, title: "Males", titleX: 175 });
histogramm({ left: 471, right: 747, top: 36, bottom: 262.7, pad: 0.08, values: femalesCount,
  ylabel: "Count Females", ylabelX: 432, xlabelX: 608.7, title: "Females", titleX: 610.7 });

streuung({ left: 45, right: 310.7, top: 320.3, bottom: 578.3, points: zuPunkten(malesRowsA.concat(malesRowsB), malesOutliers), ticks: sesTicks,
  ylabel: "MATH12 Males", ylabelX: 16, ylabelY: 449, xlabelX: 178 });
streuung({ left: 477.3, right: 752.7, top: 324, bottom: 578.7, points: zuPunkten(femalesRowsA.concat(femalesRowsB), femalesOutliers), ticks: sesTicksFemales,
  ylabel: "MATH12 Females", ylabelX: 448, ylabelY: 450, xlabelX: 614.7 });
</script>
</body>
</html>
